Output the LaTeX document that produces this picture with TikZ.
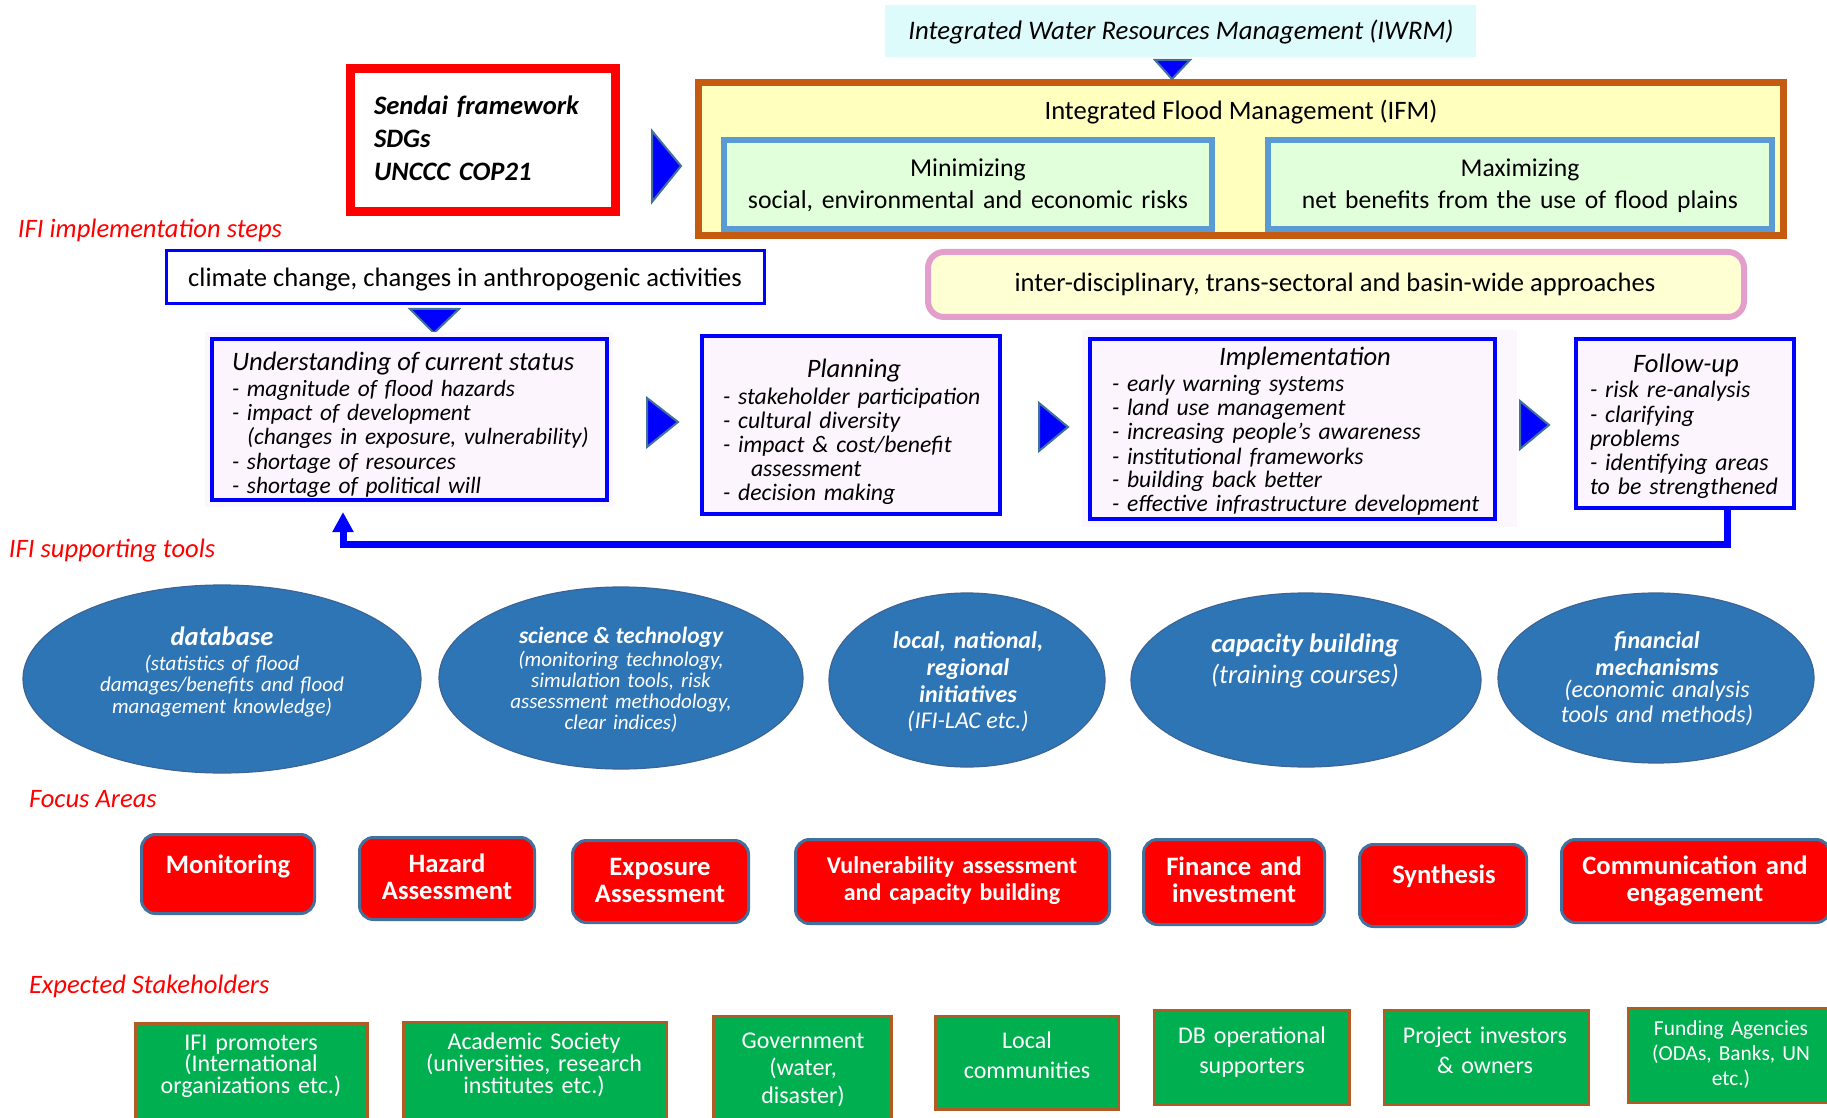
\documentclass[tikz,border=0pt]{standalone}
\usepackage{fontspec}
\setmainfont{Carlito}
\usetikzlibrary{shapes.geometric,arrows.meta,fit}
\definecolor{iwrmfill}{RGB}{222,251,252}
\definecolor{ifmfill}{RGB}{255,255,190}
\definecolor{ifmedge}{RGB}{197,90,17}
\definecolor{mmfill}{RGB}{226,255,220}
\definecolor{mmedge}{RGB}{91,155,213}
\definecolor{interfill}{RGB}{255,255,212}
\definecolor{interedge}{RGB}{228,158,204}
\definecolor{stepfill}{RGB}{253,245,253}
\definecolor{stepglow}{RGB}{252,247,252}
\definecolor{triedge}{RGB}{65,113,156}
\definecolor{ellfill}{RGB}{46,117,182}
\definecolor{elledge}{RGB}{60,100,150}
\definecolor{focusedge}{RGB}{65,113,156}
\definecolor{greenfill}{RGB}{0,176,80}
\definecolor{greenedge}{RGB}{176,92,36}
\newcommand{\fsz}[2]{\fontsize{#1}{#2}\selectfont\lineskiplimit=-50pt\relax}
\begin{document}
\begin{tikzpicture}[x=0.5pt,y=-0.5pt,
 frame/.style={inner sep=0pt, outer sep=0pt},
 txt/.style={inner sep=0pt, outer sep=0pt, anchor=base},
 mtxt/.style={inner sep=0pt, outer sep=0pt, anchor=base, align=center, text width=#1},
 ltxt/.style={inner sep=0pt, outer sep=0pt, anchor=base west, align=left, text width=#1},
 lab/.style={inner sep=0pt, outer sep=0pt, anchor=base west, text=red, font=\fsz{13.3}{16}\itshape},
 tri/.style={fill=blue, draw=triedge, line width=1pt, line join=miter},
 stepbox/.style={frame, draw=blue, fill=stepfill, line width=2pt},
 mmbox/.style={frame, draw=mmedge, fill=mmfill, line width=3pt},
 ell/.style={ellipse, fill=ellfill, draw=elledge, line width=0.6pt, inner sep=0pt},
 focus/.style={frame, draw=focusedge, fill=red, line width=1.5pt, rounded corners=7pt},
 stake/.style={frame, draw=greenedge, fill=greenfill, line width=1.5pt},
 fb/.style={draw=blue, line width=3.5pt, -{Triangle[width=10pt,length=10pt]}, shorten >=6pt},
 ]
\useasboundingbox (0,0) rectangle (1827,1118);
\fill[white] (0,0) rectangle (1827,1118);

% ---------- top block ----------
\node[frame, fill=iwrmfill, fit={(885,5) (1476,57)}] (iwrm) {};
\node[txt, font=\fsz{13.4}{16}\itshape] (iwrmT) at (1181,40) {Integrated Water Resources Management (IWRM)};

\node[frame, draw=red, fill=white, line width=4.5pt, fit={(350.5,68.5) (615.5,211.5)}] (sendai) {};
\node[ltxt=125pt, font=\fsz{13.3}{16.5}\bfseries\itshape] (sendaiT) at (374,115) {Sendai framework\\SDGs\\UNCCC COP21};

\node[frame, draw=ifmedge, fill=ifmfill, line width=3.5pt, fit={(698.5,82.5) (1783.5,235.5)}] (ifm) {};
\node[txt, font=\fsz{13.3}{16}] (ifmT) at (1241,120) {Integrated Flood Management (IFM)};
\node[mmbox, fit={(724,140) (1212,229)}] (minb) {};
\node[mtxt=240pt, font=\fsz{12.9}{16}] (minT) at (968,177) {Minimizing\\social, environmental and economic risks};
\node[mmbox, fit={(1268,140) (1772,229)}] (maxb) {};
\node[mtxt=250pt, font=\fsz{12.8}{16}] (maxT) at (1520,177) {Maximizing\\net benefits from the use of flood plains};

\fill[tri] (1155,60) -- (1190,60) -- (1172,79) -- cycle;
\fill[tri] (652,131) -- (652,202) -- (681,166) -- cycle;

\node[lab] (lab1) at (18,238) {IFI implementation steps};

\node[frame, draw=blue, fill=white, line width=1.5pt, fit={(166.5,250.5) (764.5,303.5)}] (clim) {};
\node[txt, font=\fsz{13.3}{16}] (climT) at (465,287) {climate change, changes in anthropogenic activities};
\fill[tri] (410,309) -- (459,309) -- (434,333) -- cycle;

\node[frame, draw=interedge, fill=interfill, line width=3pt, rounded corners=8pt, fit={(928,252) (1744,317)}] (inter) {};
\node[txt, font=\fsz{13.3}{16}] (interT) at (1335,292) {inter-disciplinary, trans-sectoral and basin-wide approaches};

% ---------- steps ----------
\fill[stepglow] (205,332) rectangle (613,507);
\fill[stepglow] (1082,330) rectangle (1517,527);

\node[stepbox, fit={(212,339) (607,500)}] (ub) {};
\node[lab, text=black, font=\fsz{13.3}{16}\itshape] (uT) at (232,371) {Understanding of current status};
\node[ltxt=190pt, font=\fsz{11.7}{12}\itshape] (uL) at (232,397) {- magnitude of flood hazards\\- impact of development\\\hspace*{7.5pt}(changes in exposure, vulnerability)\\- shortage of resources\\- shortage of political will};

\fill[tri] (647,398) -- (647,447) -- (678,422) -- cycle;

\node[stepbox, fit={(702,336) (1000,514)}] (pb) {};
\node[txt, font=\fsz{13.3}{16}\itshape] (pT) at (854,378) {Planning};
\node[ltxt=140pt, font=\fsz{11.85}{11.9}\itshape] (pL) at (723,405) {- stakeholder participation\\- cultural diversity\\- impact \& cost/benefit\\\hspace*{14pt}assessment\\- decision making};

\fill[tri] (1039,403) -- (1039,451) -- (1068,427) -- cycle;

\node[stepbox, fit={(1090,339) (1495,519)}] (ib) {};
\node[txt, font=\fsz{13.3}{16}\itshape] (iT) at (1305,365) {Implementation};
\node[ltxt=190pt, font=\fsz{11.8}{12}\itshape] (iL) at (1112,392) {- early warning systems\\- land use management\\- increasing people’s awareness\\- institutional frameworks\\- building back better\\- effective infrastructure development};

\fill[tri] (1520,401) -- (1520,449) -- (1549,425) -- cycle;

\node[stepbox, fit={(1576,339) (1794,508)}] (fu) {};
\node[txt, font=\fsz{13.3}{16}\itshape] (fT) at (1686,372) {Follow-up};
\node[ltxt=105pt, font=\fsz{11.9}{12.1}\itshape] (fL) at (1590,398) {- risk re-analysis\\- clarifying\\problems\\- identifying areas\\to be strengthened};

\draw[fb] ([xshift=21pt]fu.south) -- ++(0,36) -| ([xshift=-33.25pt]ub.south);

\node[lab] (lab2) at (9,557) {IFI supporting tools};

% ---------- tools ----------
\node[ell, minimum width=199pt, minimum height=94pt] (e1) at (222,679) {};
\node[txt, text=white, font=\fsz{13.3}{16}\bfseries\itshape] (e1a) at (222,645) {database};
\node[mtxt=150pt, text=white, font=\fsz{10.5}{10.75}\itshape] (e1b) at (222,670) {(statistics of flood\\damages/benefits and flood\\management knowledge)};

\node[ell, minimum width=182pt, minimum height=91pt] (e2) at (621,678) {};
\node[txt, text=white, font=\fsz{11.7}{14}\bfseries\itshape] (e2a) at (621,643) {science \& technology};
\node[mtxt=140pt, text=white, font=\fsz{10.5}{10.6}\itshape] (e2b) at (621,666) {(monitoring technology,\\simulation tools, risk\\assessment methodology,\\clear indices)};

\node[ell, minimum width=138pt, minimum height=87pt] (e3) at (967,680) {};
\node[mtxt=110pt, text=white, font=\fsz{12}{13.5}\bfseries\itshape] (e3a) at (968,648) {local, national,\\regional\\initiatives};
\node[txt, text=white, font=\fsz{12}{14}\itshape] (e3b) at (968,728) {(IFI-LAC etc.)};

\node[ell, minimum width=175pt, minimum height=87pt] (e4) at (1306,680) {};
\node[txt, text=white, font=\fsz{13.3}{16}\bfseries\itshape] (e4a) at (1305,652) {capacity building};
\node[txt, text=white, font=\fsz{13.3}{16}\itshape] (e4b) at (1305,683) {(training courses)};

\node[ell, minimum width=158pt, minimum height=85pt] (e5) at (1656,678) {};
\node[mtxt=110pt, text=white, font=\fsz{12}{13.5}\bfseries\itshape] (e5a) at (1657,648) {financial\\mechanisms};
\node[mtxt=120pt, text=white, font=\fsz{12}{12.5}\itshape] (e5b) at (1657,697) {(economic analysis\\tools and methods)};

\node[lab] (lab3) at (29,807) {Focus Areas};

% ---------- focus areas ----------
\node[focus, fit={(141.5,834.5) (314.5,913.5)}] (f1) {};
\node[txt, text=white, font=\fsz{13.3}{13.5}\bfseries] (f1T) at (228,873) {Monitoring};
\node[focus, fit={(359.5,837.5) (534.5,919.5)}] (f2) {};
\node[mtxt=85pt, text=white, font=\fsz{13.3}{13.5}\bfseries] (f2T) at (447,872) {Hazard\\Assessment};
\node[focus, fit={(572.5,840.5) (748.5,922.5)}] (f3) {};
\node[mtxt=85pt, text=white, font=\fsz{13.3}{13.5}\bfseries] (f3T) at (660,875) {Exposure\\Assessment};
\node[focus, fit={(795.5,839.5) (1109.5,923.5)}] (f4) {};
\node[mtxt=150pt, text=white, font=\fsz{12}{13.5}\bfseries] (f4T) at (952,873) {Vulnerability assessment\\and capacity building};
\node[focus, fit={(1143.5,839.5) (1324.5,924.5)}] (f5) {};
\node[mtxt=90pt, text=white, font=\fsz{13.3}{13.5}\bfseries] (f5T) at (1234,875) {Finance and\\investment};
\node[focus, fit={(1359.5,844.5) (1526.5,926.5)}] (f6) {};
\node[txt, text=white, font=\fsz{13.3}{13.5}\bfseries] (f6T) at (1444,883) {Synthesis};
\node[focus, fit={(1561.5,839.5) (1830,922.5)}] (f7) {};
\node[mtxt=130pt, text=white, font=\fsz{13.3}{13.5}\bfseries] (f7T) at (1695,874) {Communication and\\engagement};

\node[lab] (lab4) at (29,993) {Expected Stakeholders};

% ---------- stakeholders ----------
\node[stake, fit={(135.5,1023.5) (367.5,1130)}] (g1) {};
\node[mtxt=115pt, text=white, font=\fsz{12}{10.75}] (g1T) at (251,1050) {IFI promoters\\(International\\organizations etc.)};
\node[stake, fit={(403.5,1022.5) (666.5,1130)}] (g2) {};
\node[mtxt=130pt, text=white, font=\fsz{12}{11}] (g2T) at (534,1049) {Academic Society\\(universities, research\\institutes etc.)};
\node[stake, fit={(713.5,1016.5) (891.5,1130)}] (g3) {};
\node[mtxt=85pt, text=white, font=\fsz{12}{13.75}] (g3T) at (803,1048) {Government\\(water,\\disaster)};
\node[stake, fit={(935.5,1016.5) (1118.5,1109.5)}] (g4) {};
\node[mtxt=90pt, text=white, font=\fsz{12}{15}] (g4T) at (1027,1048) {Local\\communities};
\node[stake, fit={(1154.5,1010.5) (1349.5,1104.5)}] (g5) {};
\node[mtxt=95pt, text=white, font=\fsz{12}{15}] (g5T) at (1252,1043) {DB operational\\supporters};
\node[stake, fit={(1384.5,1010.5) (1588.5,1104.5)}] (g6) {};
\node[mtxt=100pt, text=white, font=\fsz{12}{15}] (g6T) at (1485,1043) {Project investors\\\& owners};
\node[stake, fit={(1628.5,1008.5) (1840,1102.5)}] (g7) {};
\node[mtxt=95pt, text=white, font=\fsz{10.7}{12.5}] (g7T) at (1731,1035) {Funding Agencies\\(ODAs, Banks, UN\\etc.)};
\end{tikzpicture}
\end{document}
